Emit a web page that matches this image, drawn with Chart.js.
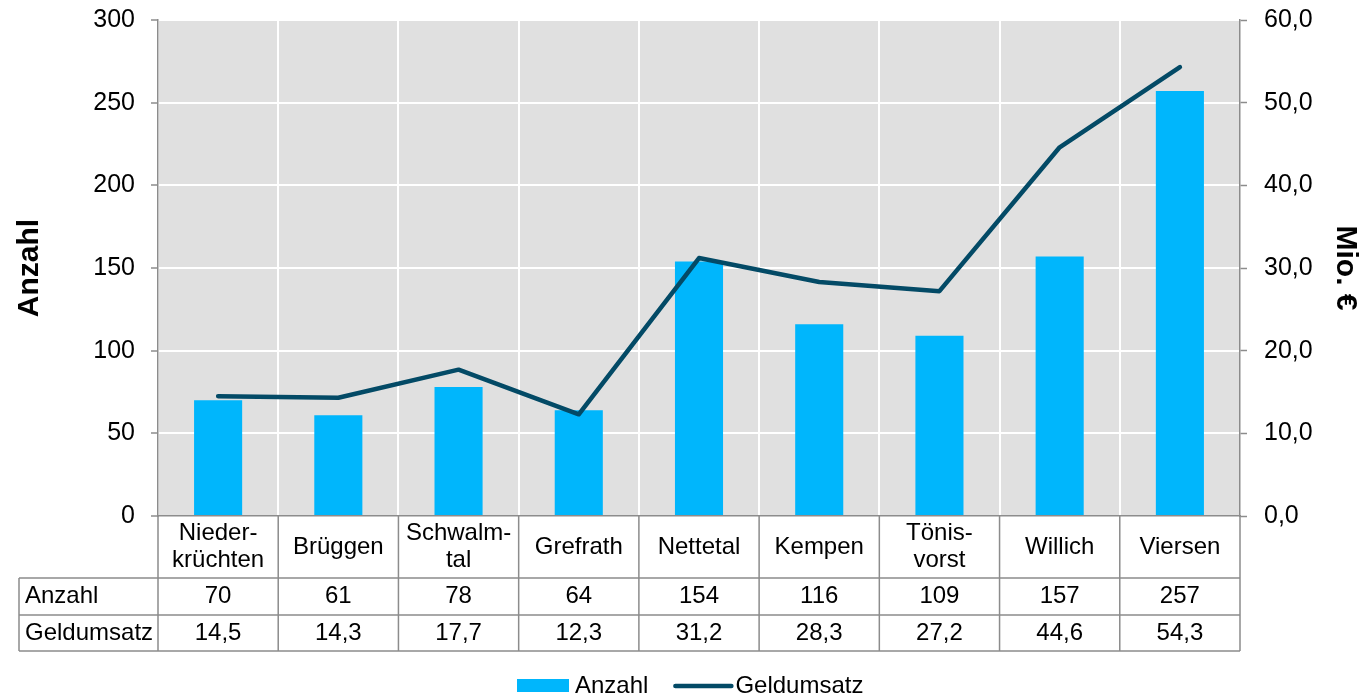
<!DOCTYPE html>
<html>
<head>
<meta charset="utf-8">
<script src="https://cdn.jsdelivr.net/npm/chart.js@4.4.0/dist/chart.umd.min.js"></script>
<style>
  html, body { margin: 0; padding: 0; background: #fff; }
</style>
</head>
<body>
<canvas id="chart" width="1365" height="698"></canvas>
<script>
// Werte aus der Grafik
const orte = [["Nieder-", "krüchten"], "Brüggen", ["Schwalm-", "tal"], "Grefrath", "Nettetal", "Kempen", ["Tönis-", "vorst"], "Willich", "Viersen"];
const anzahl = [70, 61, 78, 64, 154, 116, 109, 157, 257];
const geldumsatz = [14.5, 14.3, 17.7, 12.3, 31.2, 28.3, 27.2, 44.6, 54.3];

const barColor = "#00b6fc";
const lineColor = "#034a66";
const gridGray = "#8c8c8c";
const fontFamily = "'Liberation Sans', Arial, sans-serif";

const komma = v => v.toFixed(1).replace(".", ",");

Chart.defaults.font.family = fontFamily;
Chart.defaults.color = "#000";

// grauer Hintergrund, Datentabelle und Legende
const tabelle = {
  id: "tabelle",
  beforeDraw(chart) {
    const a = chart.chartArea, ctx = chart.ctx;
    ctx.save();
    ctx.fillStyle = "#e0e0e0";
    ctx.fillRect(a.left, a.top, a.width, a.height);
    ctx.restore();
  },
  afterDraw(chart) {
    const ctx = chart.ctx, a = chart.chartArea, x = chart.scales.x;
    const w = x.getPixelForValue(1) - x.getPixelForValue(0);
    const y0 = a.bottom, y1 = 578, y2 = 615, y3 = 651, links = 19;

    ctx.save();
    ctx.strokeStyle = gridGray;
    ctx.lineWidth = 1.5;
    ctx.beginPath();
    ctx.moveTo(links, y1); ctx.lineTo(a.right, y1);
    ctx.moveTo(links, y2); ctx.lineTo(a.right, y2);
    ctx.moveTo(links, y3); ctx.lineTo(a.right, y3);
    ctx.moveTo(links, y1); ctx.lineTo(links, y3);
    for (let i = 0; i <= orte.length; i++) {
      const px = i < orte.length ? x.getPixelForValue(i) - w / 2 : a.right;
      ctx.moveTo(px, y0); ctx.lineTo(px, y3);
    }
    ctx.stroke();

    ctx.fillStyle = "#000";
    ctx.font = "24px " + fontFamily;
    ctx.textBaseline = "middle";
    ctx.textAlign = "left";
    ctx.fillText("Anzahl", 25, (y1 + y2) / 2);
    ctx.fillText("Geldumsatz", 25, (y2 + y3) / 2);

    ctx.textAlign = "center";
    orte.forEach((ort, i) => {
      const cx = x.getPixelForValue(i);
      if (Array.isArray(ort)) {
        ctx.fillText(ort[0], cx, (y0 + y1) / 2 - 13.5);
        ctx.fillText(ort[1], cx, (y0 + y1) / 2 + 13.5);
      } else {
        ctx.fillText(ort, cx, (y0 + y1) / 2);
      }
      ctx.fillText(String(anzahl[i]), cx, (y1 + y2) / 2);
      ctx.fillText(komma(geldumsatz[i]), cx, (y2 + y3) / 2);
    });

    // Legende
    const ly = 686;
    let lx = 517;
    ctx.fillStyle = barColor;
    ctx.fillRect(lx, ly - 7, 52, 13);
    lx += 58;
    ctx.fillStyle = "#000";
    ctx.textAlign = "left";
    ctx.fillText("Anzahl", lx, ly);
    lx += ctx.measureText("Anzahl").width + 27;
    ctx.strokeStyle = lineColor;
    ctx.lineWidth = 4.5;
    ctx.lineCap = "round";
    ctx.beginPath();
    ctx.moveTo(lx, ly); ctx.lineTo(lx + 56, ly);
    ctx.stroke();
    ctx.fillText("Geldumsatz", lx + 60, ly);
    ctx.restore();
  }
};

new Chart("chart", {
  data: {
    labels: orte,
    datasets: [
      {
        type: "line",
        label: "Geldumsatz",
        data: geldumsatz,
        yAxisID: "y2",
        borderColor: lineColor,
        borderWidth: 4.5,
        borderCapStyle: "round",
        borderJoinStyle: "round",
        pointRadius: 0,
        tension: 0,
        order: 1
      },
      {
        type: "bar",
        label: "Anzahl",
        data: anzahl,
        yAxisID: "y",
        backgroundColor: barColor,
        barPercentage: 0.4,
        categoryPercentage: 1,
        order: 2
      }
    ]
  },
  options: {
    responsive: false,
    animation: false,
    layout: { padding: 0 },
    plugins: {
      legend: { display: false },
      tooltip: { enabled: false }
    },
    scales: {
      x: {
        ticks: { display: false },
        grid: { color: "#fff", lineWidth: 2, drawTicks: false },
        border: { color: gridGray, width: 1.5 },
        afterFit(s) { s.height = 182; }
      },
      y: {
        position: "left",
        min: 0, max: 300,
        ticks: { stepSize: 50, padding: 16, font: { size: 25 } },
        grid: { color: "#fff", lineWidth: 2, tickColor: gridGray, tickLength: 7, tickWidth: 1.5 },
        border: { color: gridGray, width: 1.5 },
        title: { display: true, text: "Anzahl", font: { size: 30, weight: "bold" }, padding: { top: 12, bottom: 0 } },
        afterFit(s) { s.width = 158; s.paddingTop = 20; s.paddingBottom = 0; }
      },
      y2: {
        position: "right",
        min: 0, max: 60,
        ticks: { stepSize: 10, padding: 17, font: { size: 25 }, callback: v => komma(v) },
        grid: { drawOnChartArea: false, tickColor: gridGray, tickLength: 7, tickWidth: 1.5 },
        border: { color: gridGray, width: 1.5 },
        title: { display: true, text: "Mio. €", font: { size: 30, weight: "bold" }, padding: { top: 2, bottom: 0 } },
        afterFit(s) { s.width = 125; s.paddingTop = 20; s.paddingBottom = 0; }
      }
    }
  },
  plugins: [tabelle]
});
</script>
</body>
</html>
